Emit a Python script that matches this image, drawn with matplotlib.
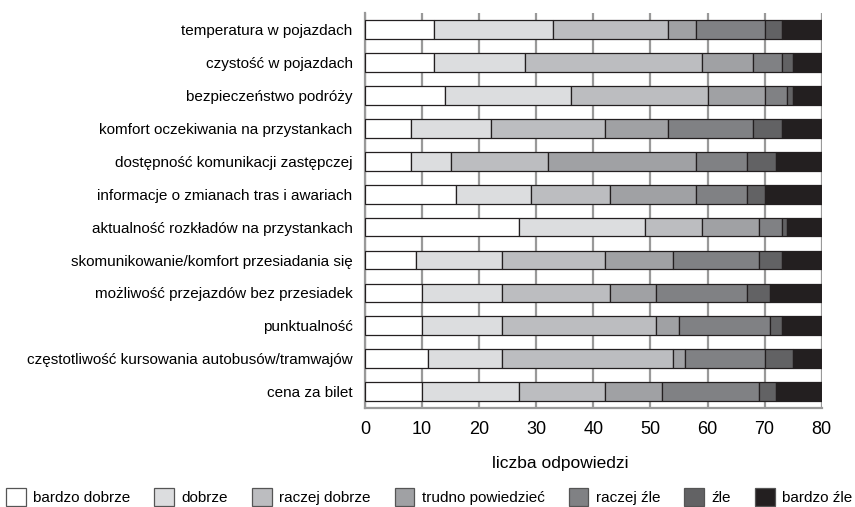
import matplotlib
matplotlib.use("Agg")
import matplotlib.pyplot as plt
from matplotlib.patches import Patch
import numpy as np

plt.rcParams['font.family'] = ['Liberation Sans', 'DejaVu Sans']

# categories from top to bottom
categories = [
    'temperatura w pojazdach',
    'czystość w pojazdach',
    'bezpieczeństwo podróży',
    'komfort oczekiwania na przystankach',
    'dostępność komunikacji zastępczej',
    'informacje o zmianach tras i awariach',
    'aktualność rozkładów na przystankach',
    'skomunikowanie/komfort przesiadania się',
    'możliwość przejazdów bez przesiadek',
    'punktualność',
    'częstotliwość kursowania autobusów/tramwajów',
    'cena za bilet',
]

answers = ['bardzo dobrze', 'dobrze', 'raczej dobrze', 'trudno powiedzieć',
           'raczej źle', 'źle', 'bardzo źle']

bardzo_dobrze = [12, 12, 14, 8, 8, 16, 27, 9, 10, 10, 11, 10]
dobrze = [21, 16, 22, 14, 7, 13, 22, 15, 14, 14, 13, 17]
raczej_dobrze = [20, 31, 24, 20, 17, 14, 10, 18, 19, 27, 30, 15]
trudno = [5, 9, 10, 11, 26, 15, 10, 12, 8, 4, 2, 10]
raczej_zle = [12, 5, 4, 15, 9, 9, 4, 15, 16, 16, 14, 17]
zle = [3, 2, 1, 5, 5, 3, 1, 4, 4, 2, 5, 3]
bardzo_zle = [7, 5, 5, 7, 8, 10, 6, 7, 9, 7, 5, 8]

colors = ['#ffffff', '#dcdddf', '#bcbdc0', '#a0a1a4', '#808184', '#626264', '#231f20']

series = [bardzo_dobrze, dobrze, raczej_dobrze, trudno, raczej_zle, zle, bardzo_zle]

fig = plt.figure(figsize=(8.55, 5.07), dpi=100)
ax = fig.add_axes([0.427, 0.195, 0.534, 0.779])

y = np.arange(len(categories))
left = np.zeros(len(categories))
for vals, col in zip(series, colors):
    ax.barh(y, vals, left=left, height=0.57, color=col,
            edgecolor='#231f20', linewidth=0.9, zorder=3)
    left += np.array(vals)

ax.set_xlim(0, 80)
ax.set_ylim(len(categories) - 0.5, -0.5)
ax.set_xticks(range(0, 81, 10))
ax.set_yticks(y)
ax.set_yticklabels(categories, fontsize=11)
ax.tick_params(axis='x', length=0, pad=9, labelsize=13)
ax.tick_params(axis='y', length=0, pad=9)

ax.xaxis.grid(True, color='#999999', linewidth=1.6, zorder=0)
ax.set_axisbelow(True)
for s in ['top', 'right']:
    ax.spines[s].set_visible(False)
for s in ['left', 'bottom']:
    ax.spines[s].set_color('#999999')
    ax.spines[s].set_linewidth(1.6)

ax.set_xlabel('liczba odpowiedzi', fontsize=12.5, labelpad=12)
ax.xaxis.set_label_coords(0.427, -0.12)

handles = [Patch(facecolor=c, edgecolor='#555555', linewidth=0.9) for c in colors]
fig.legend(handles, answers, loc='center', bbox_to_anchor=(0.502, 0.02), ncol=7,
           frameon=False, fontsize=11, handlelength=1.3, handleheight=1.5,
           handletextpad=0.5, columnspacing=1.55)

fig.savefig('out.png', dpi=100)
